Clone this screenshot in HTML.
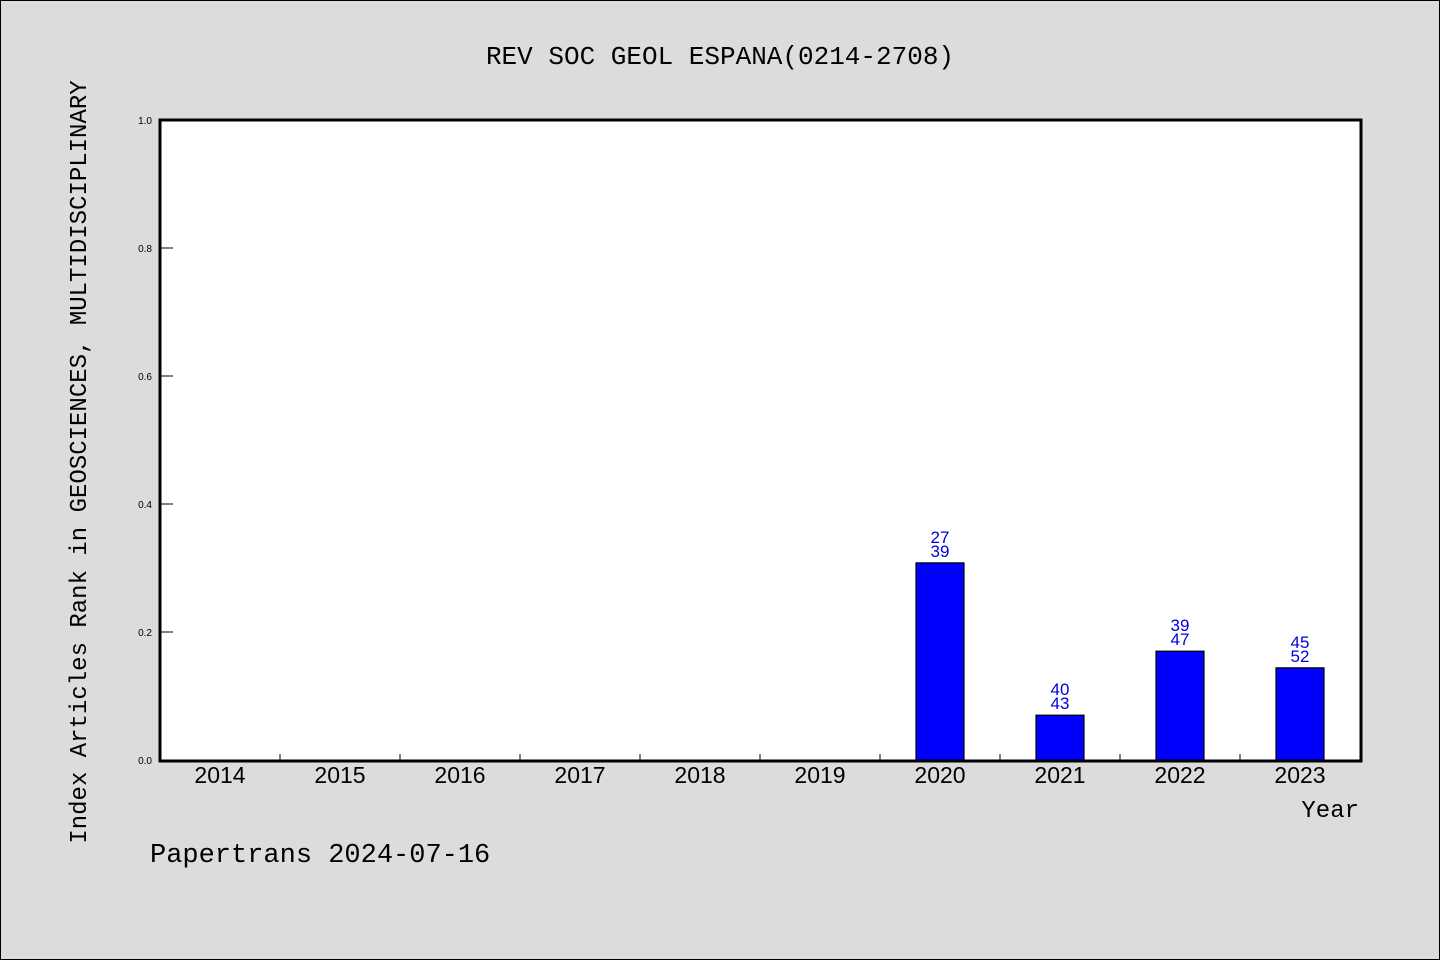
<!DOCTYPE html>
<html><head><meta charset="utf-8"><style>
body{margin:0;background:#dcdcdc}
svg{display:block}
</style></head><body>
<svg width="1440" height="960" xmlns="http://www.w3.org/2000/svg" id="c">
<rect x="0.5" y="0.5" width="1439" height="959" fill="#dcdcdc" stroke="#000"/>
<text x="720" y="64" text-anchor="middle" font-family="Liberation Mono, monospace" font-size="26">REV SOC GEOL ESPANA(0214-2708)</text>
<rect x="160" y="120" width="1201" height="641" fill="#fff" stroke="#000" stroke-width="3"/>
<text transform="translate(86,462) rotate(-90)" text-anchor="middle" font-family="Liberation Mono, monospace" font-size="24">Index Articles Rank in GEOSCIENCES, MULTIDISCIPLINARY</text>
<text x="1359" y="817" text-anchor="end" font-family="Liberation Mono, monospace" font-size="24">Year</text>
<text x="150" y="862" font-family="Liberation Mono, monospace" font-size="27">Papertrans 2024-07-16</text>
<g id="g"></g>
</svg>
<script>
const years=["2014","2015","2016","2017","2018","2019","2020","2021","2022","2023"];
const values=[0,0,0,0,0,0,0.308,0.070,0.170,0.144];
const ranks=["","","","","","","27","40","39","45"];
const totals=["","","","","","","39","43","47","52"];
const yTicks=["0.0","0.2","0.4","0.6","0.8","1.0"];
const NS="http://www.w3.org/2000/svg",g=document.getElementById('g');
const x0=160,cw=120,yb=760,yh=640;
const X=i=>x0+cw*i+cw/2, Y=v=>yb-v*yh;
function mk(t,a){const e=document.createElementNS(NS,t);for(const k in a)e.setAttribute(k,a[k]);g.appendChild(e);return e;}
yTicks.forEach(t=>{const y=Y(parseFloat(t));
const l=mk('line',{x1:161,x2:173,y1:y,y2:y,stroke:'#000'});


const tx=mk('text',{x:152,y:y+4,'text-anchor':'end','font-family':'Liberation Sans, sans-serif','font-size':10});
tx.textContent=t;

});
years.forEach((yr,i)=>{
if(i>0){const l=mk('line',{x1:x0+cw*i,x2:x0+cw*i,y1:yb,y2:yb-6,stroke:'#000'});

}
const t=mk('text',{x:X(i),y:783,'text-anchor':'middle','font-family':'Liberation Sans, sans-serif','font-size':23});
t.textContent=yr;


if(values[i]>0){const r=mk('rect',{x:X(i)-24,y:Y(values[i]),width:48,height:values[i]*yh,fill:'#0000ff',stroke:'#000','stroke-width':1.2});


const a=mk('text',{x:X(i),y:Y(values[i])-20,'text-anchor':'middle','font-family':'Liberation Sans, sans-serif','font-size':17,fill:'#0000dd'});a.textContent=ranks[i];


const b=mk('text',{x:X(i),y:Y(values[i])-6,'text-anchor':'middle','font-family':'Liberation Sans, sans-serif','font-size':17,fill:'#0000dd'});b.textContent=totals[i];

}
});
mk('line',{x1:160,x2:1361,y1:761,y2:761,stroke:'#000','stroke-width':3});
</script>
</body></html>
